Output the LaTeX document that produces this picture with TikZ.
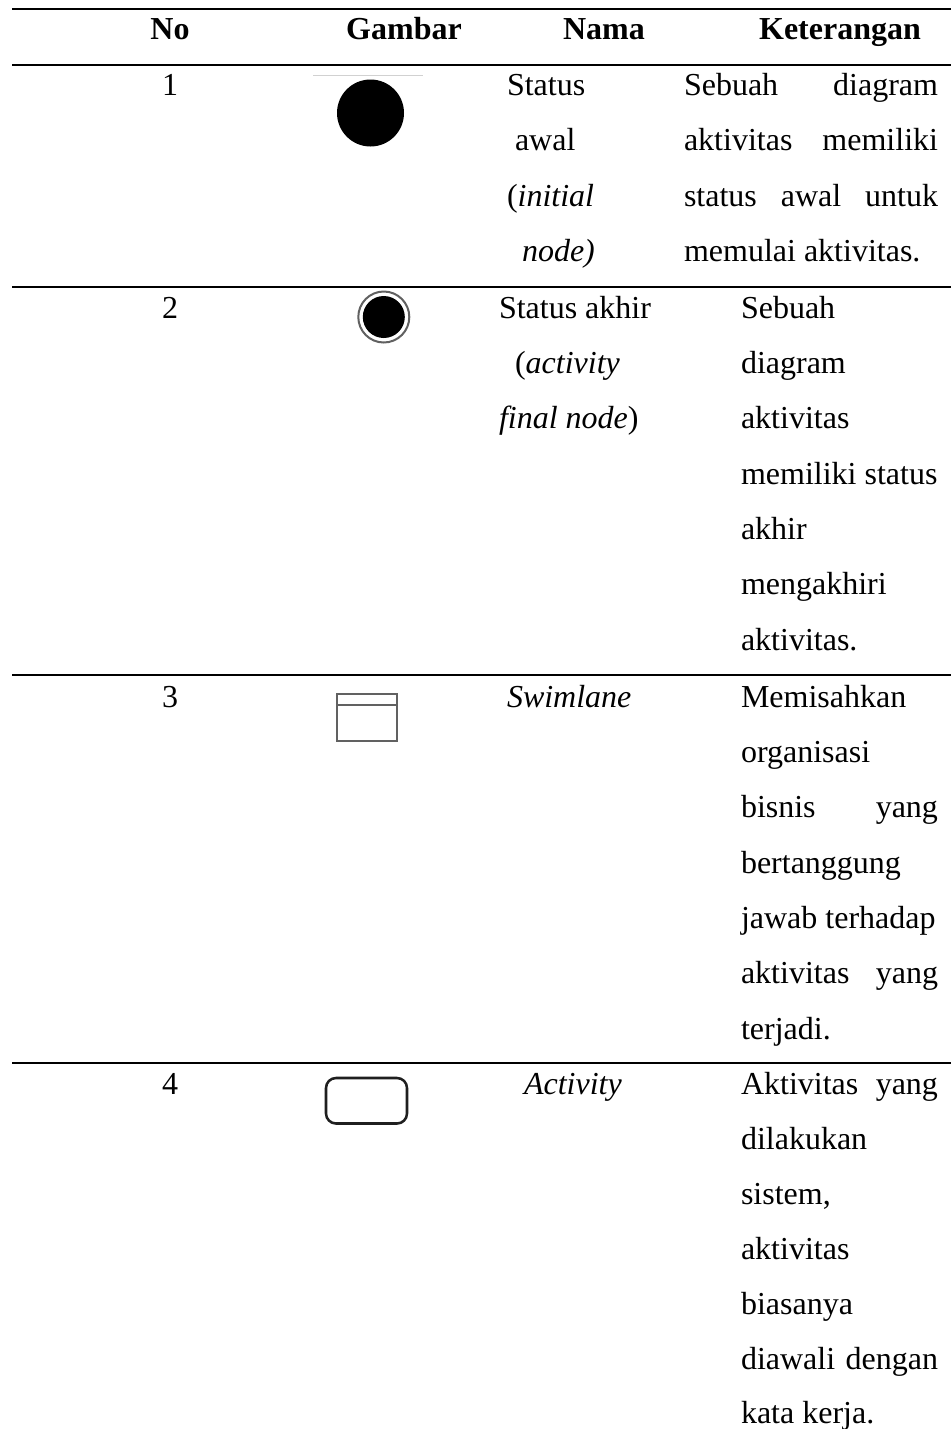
\documentclass[tikz,border=0pt]{standalone}
\usepackage{fontspec}
\setmainfont{Liberation Serif}
\tikzset{
  x=0.75pt,y=-0.75pt,
  txt/.style={inner sep=0pt,outer sep=0pt,font=\fontsize{24pt}{28pt}\selectfont,text=black},
  lft/.style={txt,anchor=base west},
  mid/.style={txt,anchor=base},
  hrule/.style={line width=1.5pt,black},
  icon/.style={draw=black!62,line width=1.5pt}
}
\newcommand{\jl}[2]{\hbox to #1{#2}}
\begin{document}
\begin{tikzpicture}
\useasboundingbox (0,0) rectangle (951,1429);
\fill[white] (0,0) rectangle (951,1429);
% rules
\coordinate (rta) at (12,9); \coordinate (rtb) at (951,9);
\coordinate (r0a) at (12,65); \coordinate (r0b) at (951,65);
\coordinate (r1a) at (12,287); \coordinate (r1b) at (951,287);
\coordinate (r2a) at (12,675); \coordinate (r2b) at (951,675);
\coordinate (r3a) at (12,1063); \coordinate (r3b) at (951,1063);
\draw[hrule] (rta)--(rtb);
\draw[hrule] (r0a)--(r0b);
\draw[hrule] (r1a)--(r1b);
\draw[hrule] (r2a)--(r2b);
\draw[hrule] (r3a)--(r3b);
% header
\node[mid] (hno) at (170,39) {\textbf{No}};
\node[mid] (hgb) at (404,39) {\textbf{Gambar}};
\node[mid] (hnm) at (604,39) {\textbf{Nama}};
\node[mid] (hkt) at (840,39) {\textbf{Keterangan}};
% numbers
\node[mid] (n1) at (170,95) {1};
\node[mid] (n2) at (170,318) {2};
\node[mid] (n3) at (170,707) {3};
\node[mid] (n4) at (170,1094) {4};
% icons
\draw[black!18,line width=1pt] (313,75.5)--(423,75.5);
\fill[black] (370.5,113) circle (33.5);
\fill[black] (383.8,317) circle (21);
\draw[black!62,line width=1.5pt] (383.8,317) circle (25.5);
\draw[icon] (337,694) rectangle (397,741);
\draw[icon] (337,705) -- (397,705);
\draw[black!88,line width=1.9pt,rounded corners=7.5pt] (326,1078) rectangle (407,1123.5);
% nama
\node[lft] (a1) at (507,95) {Status};
\node[lft] (a2) at (515,150) {awal};
\node[lft] (a3) at (507,206) {(\textit{initial}};
\node[lft] (a4) at (522,261) {\textit{node)}};
\node[lft] (b1) at (499,318) {Status akhir};
\node[lft] (b2) at (515,373) {(\textit{activity}};
\node[lft] (b3) at (499,428.5) {\textit{final node}\/)};
\node[lft] (c1) at (507,707) {\textit{Swimlane}};
\node[lft] (d1) at (524,1094) {\textit{Activity}};
% keterangan 1
\node[lft] (k11) at (684,95) {\jl{254\dimexpr0.75pt\relax}{Sebuah\hfill diagram}};
\node[lft] (k12) at (684,150) {\jl{254\dimexpr0.75pt\relax}{aktivitas\hfill memiliki}};
\node[lft] (k13) at (684,206) {\jl{254\dimexpr0.75pt\relax}{status\hfill awal\hfill untuk}};
\node[lft] (k14) at (684,261) {memulai aktivitas.};
% keterangan 2
\node[lft] (k21) at (741,318) {Sebuah};
\node[lft] (k22) at (741,373) {diagram};
\node[lft] (k23) at (741,428.5) {aktivitas};
\node[lft] (k24) at (741,484) {memiliki status};
\node[lft] (k25) at (741,539) {akhir};
\node[lft] (k26) at (741,594.5) {mengakhiri};
\node[lft] (k27) at (741,650) {aktivitas.};
% keterangan 3
\node[lft] (k31) at (741,707) {Memisahkan};
\node[lft] (k32) at (741,762) {organisasi};
\node[lft] (k33) at (741,817.5) {\jl{197\dimexpr0.75pt\relax}{bisnis\hfill yang}};
\node[lft] (k34) at (741,873) {bertanggung};
\node[lft] (k35) at (741,928) {jawab terhadap};
\node[lft] (k36) at (741,983.5) {\jl{197\dimexpr0.75pt\relax}{aktivitas\hfill yang}};
\node[lft] (k37) at (741,1039) {terjadi.};
% keterangan 4
\node[lft] (k41) at (741,1094) {\jl{197\dimexpr0.75pt\relax}{Aktivitas\hfill yang}};
\node[lft] (k42) at (741,1149) {dilakukan};
\node[lft] (k43) at (741,1204) {sistem,};
\node[lft] (k44) at (741,1259) {aktivitas};
\node[lft] (k45) at (741,1314.5) {biasanya};
\node[lft] (k46) at (741,1369) {\jl{197\dimexpr0.75pt\relax}{diawali\hfill dengan}};
\node[lft] (k47) at (741,1423.5) {kata kerja.};
\end{tikzpicture}
\end{document}
